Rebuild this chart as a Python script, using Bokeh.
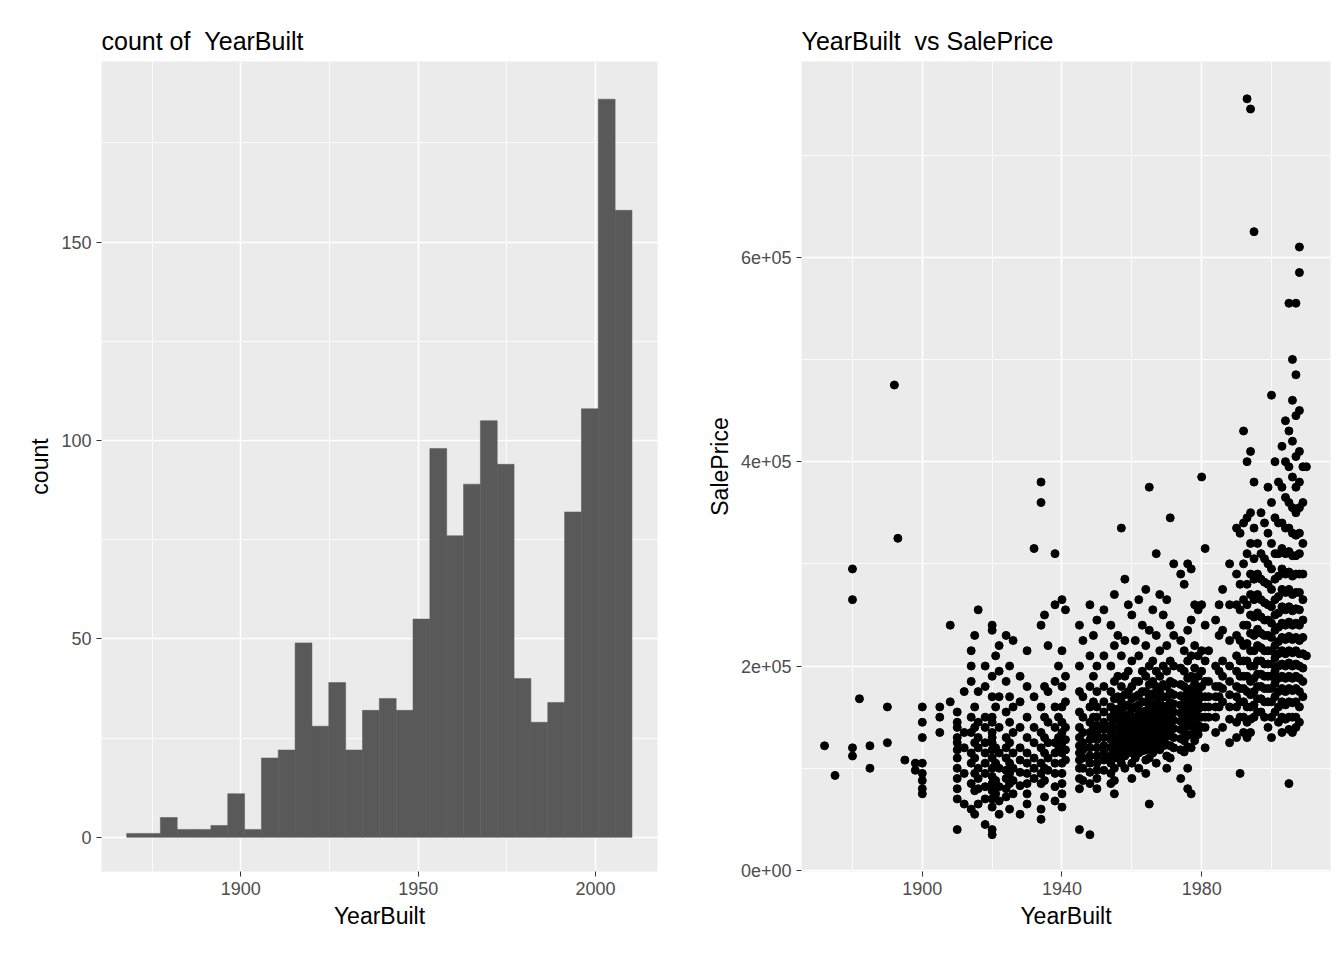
from bokeh.plotting import figure
from bokeh.layouts import row
from bokeh.models import ColumnDataSource, FixedTicker, Range1d
from bokeh.embed import file_html
from bokeh.resources import INLINE

# histogram: 30 bins of YearBuilt
bin_start = 1867.8
bin_width = 4.75
bin_counts = [1, 1, 5, 2, 2, 3, 11, 2, 20, 22, 49, 28, 39, 22, 32, 35, 32, 55,
              98, 76, 89, 105, 94, 40, 29, 34, 82, 108, 186, 158]

# scatter: sale prices (thousands), by year built
sale_prices_k = {
    1872: [122], 1875: [93], 1880: [295, 265, 120, 112], 1882: [168], 1885: [122, 100],
    1890: [160, 125], 1892: [475], 1893: [325], 1895: [108], 1898: [105, 98],
    1900: [160, 145, 130, 105, 95, 88, 80, 75], 1905: [160, 150, 135], 1908: [240, 165],
    1910: [145, 130, 125, 118, 110, 100, 90, 80, 70, 40, 140, 155],
    1912: [175, 135, 120, 95, 65],
    1914: [200, 185, 150, 135, 115, 105, 85, 60, 215],
    1915: [160, 140, 125, 110, 95, 78, 55, 230],
    1916: [255, 175, 145, 130, 120, 100, 90, 80, 65],
    1918: [200, 180, 150, 140, 125, 115, 105, 95, 82, 70, 45],
    1920: [240, 235, 190, 170, 150, 135, 125, 118, 110, 100, 92, 85, 78, 70, 62, 40, 35, 130, 145],
    1921: [210, 160, 120, 105, 88, 75],
    1922: [220, 195, 170, 140, 115, 100, 82, 68, 55],
    1924: [230, 185, 155, 130, 120, 110, 98, 90, 80, 72],
    1925: [200, 170, 145, 125, 105, 95, 85, 60],
    1926: [225, 160, 135, 115, 100, 88, 75],
    1928: [190, 165, 140, 120, 108, 96, 83, 55],
    1930: [215, 180, 150, 130, 115, 105, 95, 85, 75, 65],
    1932: [315, 170, 140, 125, 110, 100, 90],
    1934: [380, 360, 240, 160, 135, 120, 105, 95, 85, 60, 50],
    1935: [250, 180, 150, 130, 115, 100, 88, 72],
    1936: [220, 175, 145, 125, 110, 98],
    1938: [310, 260, 185, 160, 140, 125, 115, 105, 95, 82, 68],
    1939: [200, 150, 130, 118],
    1940: [265, 215, 180, 160, 145, 135, 125, 115, 105, 95, 85, 75, 62],
    1941: [255, 190, 165, 140, 128, 118, 108],
    1945: [240, 200, 175, 155, 140, 130, 122, 115, 108, 100, 90, 80, 40],
    1946: [225, 170, 150, 135, 125, 118, 110, 100, 88],
    1948: [260, 210, 180, 160, 145, 135, 128, 120, 112, 105, 96, 85, 35],
    1949: [230, 190, 165, 150, 140, 130],
    1950: [245, 200, 175, 160, 150, 142, 135, 128, 120, 112, 105, 98, 90, 80],
    1952: [255, 210, 180, 165, 155, 145, 138, 130, 122, 115, 108, 98],
    1954: [240, 200, 175, 160, 150, 142, 135, 128, 120, 112, 105, 95, 85],
    1955: [270, 220, 185, 168, 155, 148, 140, 132, 125, 118, 110, 100, 88, 75],
    1956: [230, 190, 170, 158, 148, 140, 132, 125, 118, 110],
    1957: [335, 210, 180, 165, 155, 145, 138, 130, 122, 115, 105],
    1958: [285, 225, 190, 172, 160, 150, 142, 135, 128, 120, 112, 100],
    1959: [260, 195, 175, 162, 152, 145, 138, 130, 123, 116],
    1960: [250, 205, 180, 168, 158, 150, 143, 136, 129, 122, 115, 105, 90],
    1961: [225, 185, 170, 160, 150, 142, 135, 128, 120, 110],
    1962: [265, 210, 185, 172, 162, 153, 145, 138, 130, 123, 115, 100],
    1963: [240, 195, 175, 165, 155, 147, 140, 132, 125, 117],
    1964: [275, 220, 190, 175, 165, 156, 148, 140, 133, 125, 118, 108, 95],
    1965: [375, 235, 200, 182, 170, 160, 151, 143, 136, 128, 120, 110, 65],
    1966: [255, 205, 185, 173, 163, 155, 147, 140, 132, 124, 115],
    1967: [310, 230, 195, 180, 170, 160, 152, 145, 137, 129, 120, 105],
    1968: [270, 215, 190, 176, 166, 157, 150, 142, 135, 127, 118],
    1969: [250, 200, 182, 170, 160, 152, 145, 138, 130, 122],
    1970: [265, 220, 195, 180, 170, 161, 153, 146, 139, 131, 123, 112, 100],
    1971: [345, 240, 205, 185, 174, 164, 156, 148, 140, 132, 122, 110],
    1972: [300, 230, 200, 183, 172, 163, 155, 147, 139, 130, 120],
    1974: [290, 225, 198, 182, 171, 162, 154, 146, 138, 129, 118, 90],
    1975: [280, 215, 195, 180, 169, 160, 152, 144, 136, 127, 116],
    1976: [300, 235, 205, 188, 175, 165, 157, 149, 141, 132, 121, 100, 80],
    1977: [295, 245, 210, 190, 178, 168, 158, 150, 142, 133, 120, 75],
    1978: [260, 220, 198, 183, 172, 162, 154, 146, 137, 127],
    1979: [255, 210, 190, 176, 166, 158, 150, 142, 133],
    1980: [385, 260, 215, 195, 180, 170, 160, 150, 140],
    1981: [315, 240, 205, 185, 170, 160, 150, 140, 120],
    1982: [215, 185, 170, 160, 150],
    1984: [245, 200, 180, 170, 160, 150, 135],
    1985: [260, 230, 195, 180, 170, 160],
    1986: [275, 235, 205, 190, 178, 165, 140],
    1988: [300, 260, 225, 200, 185, 172, 160, 148, 125],
    1990: [335, 290, 260, 230, 210, 195, 180, 170, 160, 145, 130],
    1991: [330, 280, 255, 225, 205, 190, 178, 165, 150, 95],
    1992: [430, 340, 300, 265, 240, 220, 205, 190, 178, 165, 150, 135],
    1993: [755, 400, 345, 310, 280, 260, 240, 222, 205, 190, 175, 160, 145, 130],
    1994: [745, 410, 350, 320, 290, 270, 250, 232, 215, 200, 185, 172, 160, 148, 135],
    1995: [625, 380, 335, 305, 285, 265, 248, 230, 215, 200, 188, 175, 162, 150],
    1996: [320, 290, 270, 252, 236, 220, 205, 192, 180, 168, 155],
    1997: [350, 310, 285, 265, 248, 232, 218, 205, 192, 180, 168, 155],
    1998: [340, 305, 282, 262, 245, 230, 215, 202, 190, 178, 165, 150],
    1999: [375, 330, 300, 280, 260, 245, 230, 215, 202, 190, 178, 165, 140],
    2000: [465, 360, 320, 295, 275, 258, 242, 228, 215, 202, 190, 178, 165, 150, 130],
    2001: [400, 345, 310, 285, 265, 250, 235, 220, 208, 195, 183, 170, 155],
    2002: [380, 340, 310, 288, 268, 252, 238, 224, 212, 200, 188, 175, 160, 145],
    2003: [415, 375, 340, 315, 295, 275, 258, 242, 228, 215, 202, 190, 178, 165, 150, 135],
    2004: [440, 400, 365, 335, 310, 290, 272, 255, 240, 226, 212, 200, 188, 175, 162, 148],
    2005: [555, 430, 395, 360, 335, 312, 292, 275, 258, 243, 229, 215, 203, 190, 178, 165, 150, 138, 85],
    2006: [500, 460, 420, 385, 355, 330, 308, 288, 270, 254, 240, 226, 213, 200, 188, 176, 164, 150, 135],
    2007: [555, 485, 445, 405, 375, 350, 328, 308, 290, 272, 256, 242, 228, 215, 202, 190, 178, 165, 150, 140],
    2008: [585, 610, 450, 410, 380, 355, 330, 310, 290, 272, 255, 240, 225, 212, 200, 188, 175, 160, 145],
    2009: [395, 360, 320, 290, 265, 245, 228, 212, 198, 185, 170],
    2010: [395, 210],
}

FONT = "Liberation Sans"


def style(p, xticks, xminor, yticks, yminor):
    p.background_fill_color = "#EBEBEB"
    p.border_fill_color = "white"
    p.outline_line_color = None
    p.title.text_font = FONT
    p.title.text_font_size = "25px"
    p.title.text_font_style = "normal"
    p.title.text_color = "black"
    p.title.offset = 0
    p.title.standoff = 14
    for ax in (p.xaxis[0], p.yaxis[0]):
        ax.axis_line_color = None
        ax.major_tick_line_color = "#333333"
        ax.major_tick_in = 0
        ax.major_tick_out = 5
        ax.minor_tick_line_color = None
        ax.major_label_text_font = FONT
        ax.major_label_text_font_size = "18px"
        ax.major_label_text_color = "#4D4D4D"
        ax.axis_label_text_font = FONT
        ax.axis_label_text_font_size = "23px"
        ax.axis_label_text_font_style = "normal"
        ax.axis_label_text_color = "black"
    p.xaxis.ticker = FixedTicker(ticks=xticks, minor_ticks=xminor)
    p.yaxis.ticker = FixedTicker(ticks=yticks, minor_ticks=yminor)
    p.grid.grid_line_color = "white"
    p.grid.grid_line_width = 1.6
    p.grid.minor_grid_line_color = "white"
    p.grid.minor_grid_line_width = 0.8


# left: histogram
lefts = [bin_start + i * bin_width for i in range(len(bin_counts))]
hist_src = ColumnDataSource(dict(left=lefts, right=[l + bin_width for l in lefts], top=bin_counts))
p1 = figure(width=664, height=944, title="count of\u00a0\u00a0YearBuilt", output_backend="svg",
            toolbar_location=None, x_range=Range1d(1860.7, 2017.5), y_range=Range1d(-8.6, 195.5),
            min_border_left=101, min_border_right=7, min_border_top=61, min_border_bottom=73)
p1.quad(left="left", right="right", top="top", bottom=0, source=hist_src,
        fill_color="#595959", line_color="#595959", line_width=0.5)
p1.xaxis.axis_label = "YearBuilt"
p1.yaxis.axis_label = "count"
style(p1, [1900, 1950, 2000], [1875, 1925, 1975], [0, 50, 100, 150], [25, 75, 125, 175])

# right: scatter
xs, ys = [], []
for yr, prices in sale_prices_k.items():
    for v in prices:
        xs.append(yr)
        ys.append(v * 1000)
p2 = figure(width=672, height=944, title="YearBuilt\u00a0\u00a0vs SalePrice", output_backend="svg",
            toolbar_location=None, x_range=Range1d(1865.4, 2016.9), y_range=Range1d(-1000, 791500),
            min_border_left=137, min_border_right=6, min_border_top=61, min_border_bottom=73)
p2.scatter(xs, ys, size=8, color="black")
p2.xaxis.axis_label = "YearBuilt"
p2.yaxis.axis_label = "SalePrice"
style(p2, [1900, 1940, 1980], [1880, 1920, 1960, 2000], [0, 200000, 400000, 600000],
      [100000, 300000, 500000, 700000])
p2.yaxis.major_label_overrides = {0: "0e+00", 200000: "2e+05", 400000: "4e+05", 600000: "6e+05"}

layout = row(p1, p2)
open("out.html", "w").write(file_html(layout, INLINE))
